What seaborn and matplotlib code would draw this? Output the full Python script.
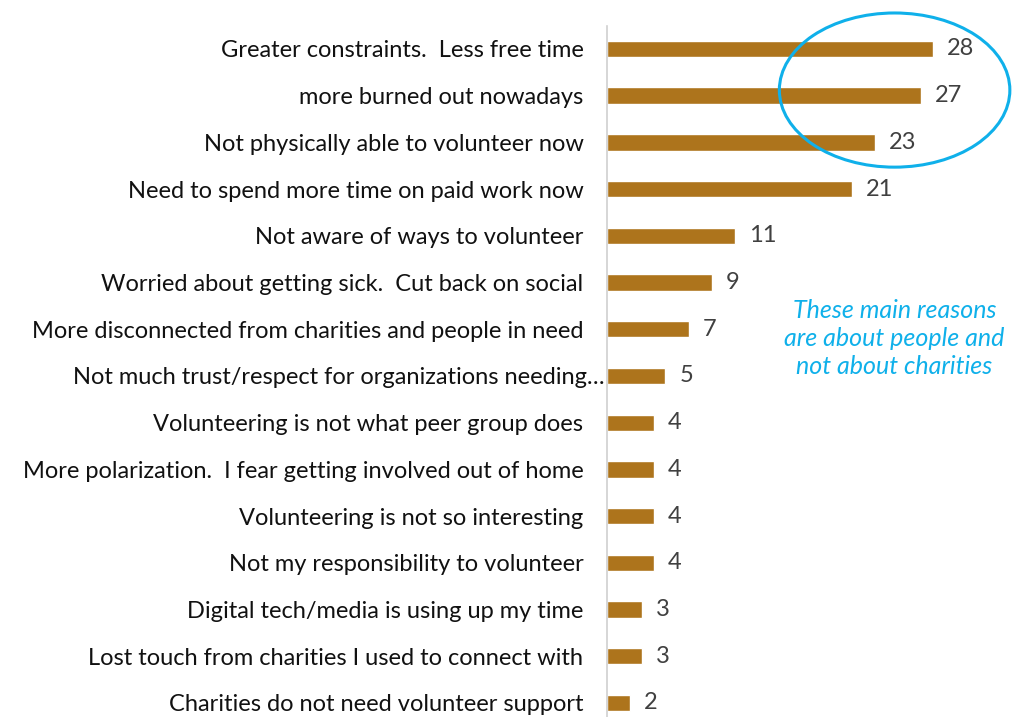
import matplotlib
matplotlib.use("Agg")
import matplotlib.pyplot as plt
from matplotlib.patches import Ellipse
from matplotlib.transforms import ScaledTranslation
import seaborn as sns
import pandas as pd

reasons = [
    "Greater constraints.  Less free time",
    "more burned out nowadays",
    "Not physically able to volunteer now",
    "Need to spend more time on paid work now",
    "Not aware of ways to volunteer",
    "Worried about getting sick.  Cut back on social",
    "More disconnected from charities and people in need",
    "Not much trust/respect for organizations needing\u2026",
    "Volunteering is not what peer group does",
    "More polarization.  I fear getting involved out of home",
    "Volunteering is not so interesting",
    "Not my responsibility to volunteer",
    "Digital tech/media is using up my time",
    "Lost touch from charities I used to connect with",
    "Charities do not need volunteer support",
]
shares = [28, 27, 23, 21, 11, 9, 7, 5, 4, 4, 4, 4, 3, 3, 2]
note = "These main reasons\nare about people and\nnot about charities"

df = pd.DataFrame({"reason": reasons, "share": shares})

sns.set_theme(style="white")
plt.rcParams["font.family"] = ["Lato", "DejaVu Sans"]

fig = plt.figure(figsize=(10.18, 7.17), dpi=100)
ax = fig.add_axes([0.5963, 0.0, 0.4037, 0.9643])

sns.barplot(data=df, x="share", y="reason", orient="h", color="#AD741C",
            saturation=1, width=0.35, ax=ax)

for i, v in enumerate(shares):
    ax.text(v + 1.2, i, str(v), va="center", ha="left",
            fontsize=17, color="#404040")

ax.set_xlim(0, 35.3)
ax.set_ylim(14.3, -0.5)
ax.set_xlabel("")
ax.set_ylabel("")
ax.set_xticks([])
ax.tick_params(axis="y", length=0, pad=17, labelsize=17, labelcolor="#111111")
for s in ["top", "right", "bottom"]:
    ax.spines[s].set_visible(False)
ax.spines["left"].set_color("#D0D0D0")
ax.spines["left"].set_linewidth(1.2)

# the truncated label runs right up to the axis line
truncated = ax.get_yticklabels()[7]
truncated.set_transform(truncated.get_transform()
                        + ScaledTranslation(0.21, 0, fig.dpi_scale_trans))

ell = Ellipse((24.7, 0.88), width=19.8, height=3.3, fill=False,
              edgecolor="#0FB0EA", linewidth=2.2, clip_on=False)
ax.add_patch(ell)

ax.text(24.7, 6.2, note, ha="center", va="center", fontsize=18,
        style="italic", color="#0FB0EA", linespacing=1.27, clip_on=False)

fig.savefig("out.png", dpi=100)
